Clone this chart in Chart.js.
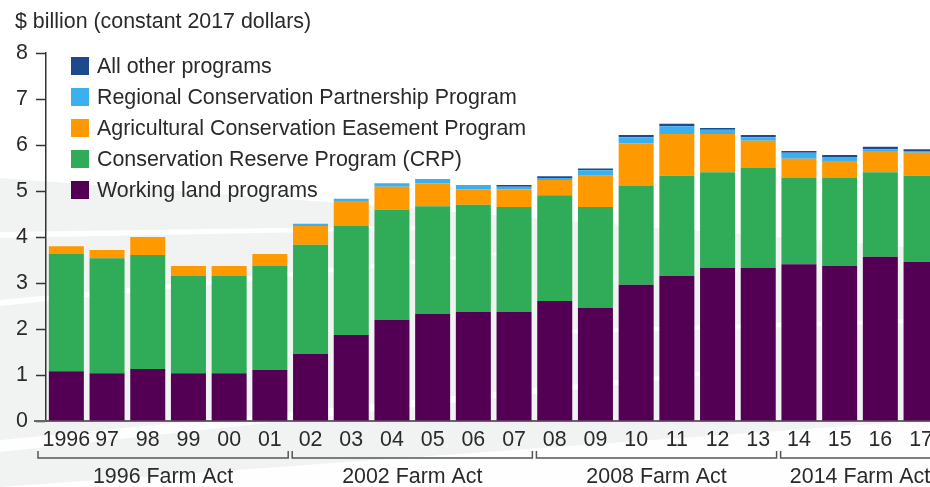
<!DOCTYPE html>
<html>
<head>
<meta charset="utf-8">
<script src="https://cdn.jsdelivr.net/npm/chart.js@4"></script>
<style>
html,body{margin:0;padding:0;overflow:hidden;background:#fff;width:930px;height:487px;}
canvas{display:block;}
</style>
</head>
<body>
<canvas id="c" width="944" height="487"></canvas>
<script>
// ---- data ----
const years = ['1996','97','98','99','00','01','02','03','04','05','06','07','08','09','10','11','12','13','14','15','16','17'];
const workingLand = [1.08,1.04,1.13,1.04,1.04,1.11,1.46,1.87,2.20,2.33,2.37,2.37,2.61,2.46,2.96,3.15,3.33,3.33,3.41,3.37,3.57,3.46];
const crp         = [2.55,2.50,2.48,2.11,2.11,2.26,2.37,2.37,2.39,2.34,2.33,2.28,2.30,2.19,2.15,2.18,2.08,2.17,1.87,1.91,1.84,1.87];
const acep        = [0.17,0.18,0.39,0.22,0.22,0.26,0.41,0.54,0.50,0.50,0.34,0.39,0.33,0.68,0.93,0.91,0.83,0.59,0.42,0.37,0.46,0.50];
const rcpp        = [0,0,0,0,0,0,0.05,0.05,0.08,0.09,0.09,0.05,0.04,0.12,0.13,0.17,0.09,0.08,0.13,0.09,0.04,0.04];
const otherProgs  = [0,0,0,0,0,0,0,0,0,0,0,0.04,0.04,0.04,0.05,0.05,0.04,0.05,0.04,0.04,0.05,0.04];
const seriesNames = ['Working land programs','Conservation Reserve Program (CRP)','Agricultural Conservation Easement Program','Regional Conservation Partnership Program','All other programs'];
const yTicks = [0,1,2,3,4,5,6,7,8];
const actNames = ['1996 Farm Act','2002 Farm Act','2008 Farm Act','2014 Farm Act'];
const actFirst = [0,6,12,18];
const actLast  = [5,11,17,21];
const yTitle = '$ billion (constant 2017 dollars)';

const colors = ['#530054','#30ab57','#ff9900','#3cafee','#1c4a8c'];
const FONT = '"Liberation Sans", Arial, sans-serif';
const FS = 21.4;
const TXT = '#2a2a2a';

const bgPlugin = {
  id:'bg',
  beforeDraw(chart){
    const ctx = chart.ctx;
    ctx.save();
    ctx.fillStyle = '#ffffff';
    ctx.fillRect(0,0,chart.width,chart.height);
    ctx.fillStyle = '#f1f2f2';
    ctx.beginPath();
    ctx.moveTo(0,178); ctx.lineTo(300,200); ctx.lineTo(944,250); ctx.lineTo(944,487); ctx.lineTo(0,487); ctx.closePath();
    ctx.fill();
    ctx.fillStyle = 'rgba(255,255,255,0.9)';
    const streaks = [
      [[0,232],[420,226],[420,230],[0,238]],
      [[0,300],[520,250],[520,253],[0,306]],
      [[0,440],[700,372],[700,376],[0,452]],
      [[0,487],[930,420],[930,487]],
      [[560,330],[944,318],[944,322],[560,334]]
    ];
    streaks.forEach(p=>{ctx.beginPath();ctx.moveTo(p[0][0],p[0][1]);for(let i=1;i<p.length;i++)ctx.lineTo(p[i][0],p[i][1]);ctx.closePath();ctx.fill();});
    ctx.restore();
  }
};

const decoPlugin = {
  id:'deco',
  afterDraw(chart){
    const ctx = chart.ctx;
    const xs = chart.scales.x;
    ctx.save();
    ctx.fillStyle = TXT;
    ctx.font = FS + 'px ' + FONT;
    ctx.textBaseline = 'middle';
    ctx.textAlign = 'left';
    ctx.fillText(yTitle, 15, 22);
    // legend (reverse order)
    const rows = [66,97,128,159,190];
    for(let k=0;k<5;k++){
      const di = 4-k;
      ctx.fillStyle = colors[di];
      ctx.fillRect(71, rows[k]-9, 18, 18);
      ctx.fillStyle = TXT;
      ctx.fillText(seriesNames[di], 97, rows[k]+1);
    }
    // farm act brackets
    const cw = (xs.right - xs.left)/years.length;
    ctx.strokeStyle = '#555';
    ctx.lineWidth = 1.5;
    ctx.textAlign = 'center';
    for(let a=0;a<actNames.length;a++){
      let x0 = xs.getPixelForValue(actFirst[a]) - cw/2 + 2;
      if(a===0) x0 = xs.left - 8;
      const x1 = xs.getPixelForValue(actLast[a]) + cw/2 - 2;
      ctx.beginPath();
      ctx.moveTo(x0,451); ctx.lineTo(x0,458); ctx.lineTo(x1,458); ctx.lineTo(x1,451);
      ctx.stroke();
      ctx.fillStyle = TXT;
      ctx.fillText(actNames[a], (x0+x1)/2, 477);
    }
    // x axis line extension to the left
    ctx.strokeStyle = '#666';
    ctx.lineWidth = 2;
    ctx.beginPath();
    ctx.moveTo(34, chart.chartArea.bottom); ctx.lineTo(xs.left, chart.chartArea.bottom);
    ctx.stroke();
    ctx.restore();
  }
};

const datasets = [workingLand, crp, acep, rcpp, otherProgs].map((d,i)=>({
  label: seriesNames[i], data: d, backgroundColor: colors[i], borderWidth: 0,
  categoryPercentage: 0.86, barPercentage: 1
}));

new Chart(document.getElementById('c'), {
  type:'bar',
  data:{labels: years, datasets},
  options:{
    responsive:false,
    animation:false,
    layout:{padding:{top:53,left:0,right:2.6,bottom:0}},
    plugins:{legend:{display:false}, tooltip:{enabled:false}},
    scales:{
      x:{
        stacked:true,
        grid:{display:false, drawTicks:false},
        border:{display:true, color:'#666', width:2},
        ticks:{color:TXT, font:{family:FONT,size:FS}, padding:6, maxRotation:0, autoSkip:false},
        afterFit(s){ s.height = 66; }
      },
      y:{
        stacked:true, min:0, max:8,
        afterBuildTicks(s){ s.ticks = yTicks.map(v=>({value:v})); },
        grid:{drawOnChartArea:false, drawTicks:true, tickLength:10, tickColor:'#333', tickWidth:1.5},
        border:{display:true, color:'#333', width:1.5},
        ticks:{color:TXT, font:{family:FONT,size:FS}, padding:8},
        afterFit(s){ s.width = 46; }
      }
    }
  },
  plugins:[bgPlugin, decoPlugin]
});
</script>
</body>
</html>
